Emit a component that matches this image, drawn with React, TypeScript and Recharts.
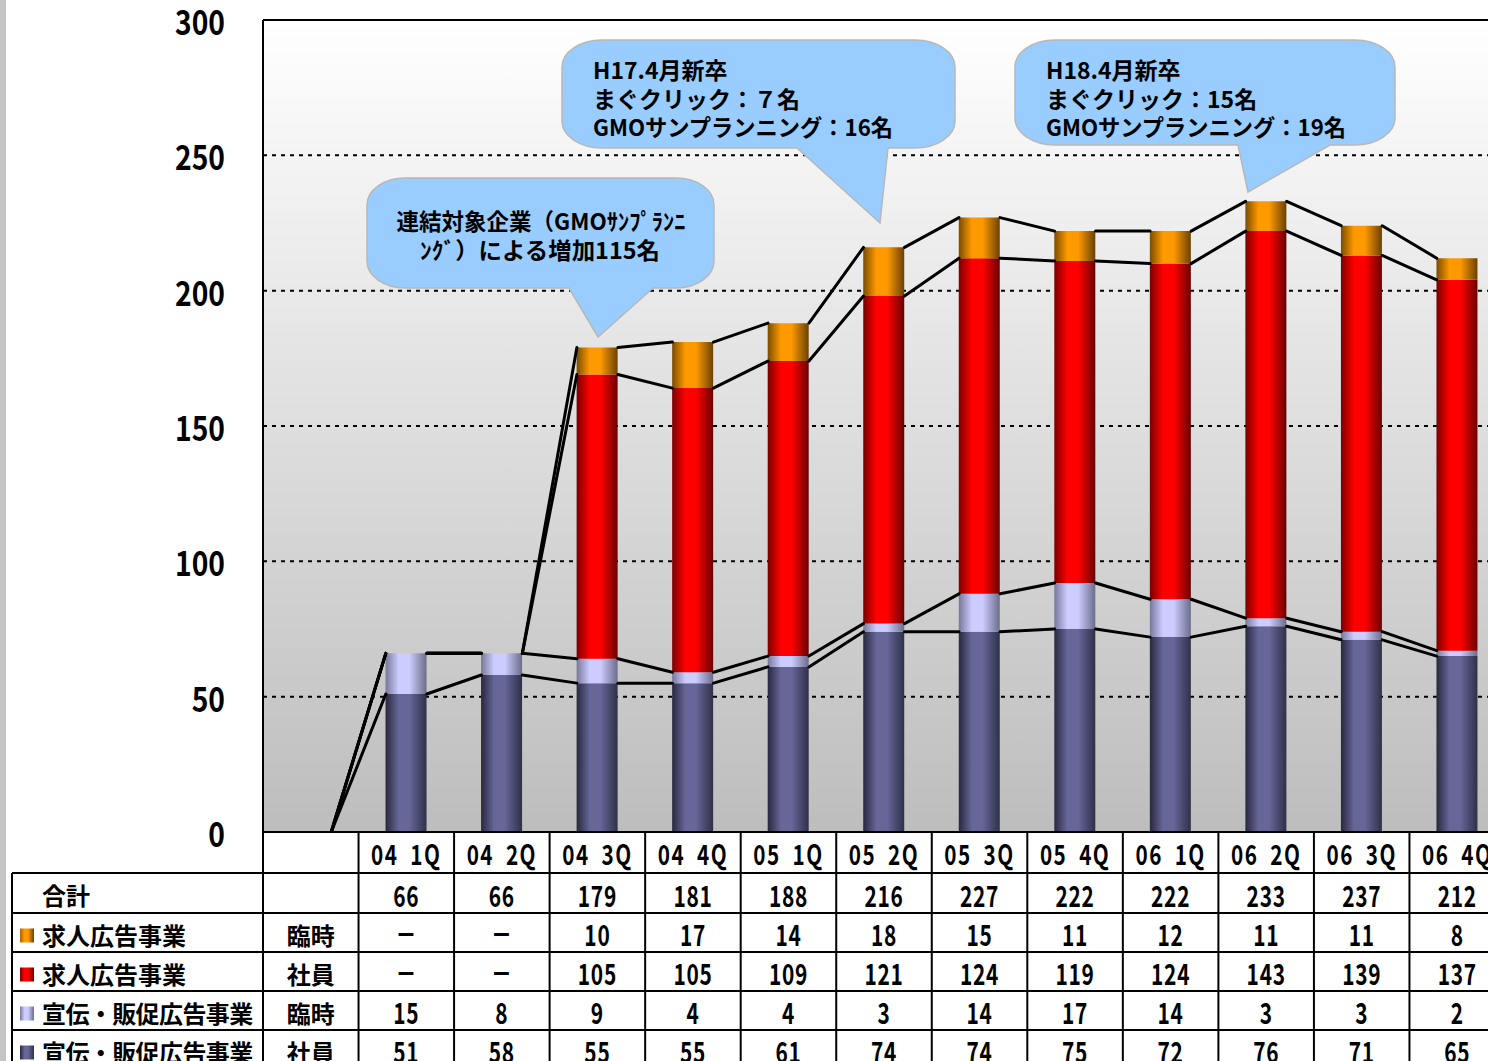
import React from 'react';
import { ComposedChart, Bar, Line, XAxis, YAxis, CartesianGrid, ReferenceLine } from 'recharts';

// ---------- data ----------
const categories = ['04 1Q', '04 2Q', '04 3Q', '04 4Q', '05 1Q', '05 2Q', '05 3Q', '05 4Q', '06 1Q', '06 2Q', '06 3Q', '06 4Q'];
const totals = [66, 66, 179, 181, 188, 216, 227, 222, 222, 233, 237, 212];
const recruitTemp: (number | null)[] = [null, null, 10, 17, 14, 18, 15, 11, 12, 11, 11, 8];
const recruitStaff: (number | null)[] = [null, null, 105, 105, 109, 121, 124, 119, 124, 143, 139, 137];
const promoTemp = [15, 8, 9, 4, 4, 3, 14, 17, 14, 3, 3, 2];
const promoStaff = [51, 58, 55, 55, 61, 74, 74, 75, 72, 76, 71, 65];
const yTicks = [0, 50, 100, 150, 200, 250, 300];

const rowLabels = ['合計', '求人広告事業', '求人広告事業', '宣伝・販促広告事業', '宣伝・販促広告事業'];
const rowSubs = ['', '臨時', '社員', '臨時', '社員'];
const rowValues: (number | null)[][] = [totals, recruitTemp, recruitStaff, promoTemp, promoStaff];
const rowSwatch = ['', 'LgOrange', 'LgRed', 'LgLav', 'LgNavy'];

const callout1 = ['連結対象企業（GMOｻﾝﾌﾟﾗﾝﾆ', 'ﾝｸﾞ）による増加115名'];
const callout2 = ['H17.4月新卒', 'まぐクリック：７名', 'GMOサンプランニング：16名'];
const callout3 = ['H18.4月新卒', 'まぐクリック：15名', 'GMOサンプランニング：19名'];

// chart rows built from arrays (leading blank category)
const base = [
  { cat: '', ps: 0, pt: 0, rs: 0, rt: 0 },
  ...categories.map((c, i) => ({
    cat: c,
    ps: promoStaff[i],
    pt: promoTemp[i],
    rs: recruitStaff[i] ?? 0,
    rt: recruitTemp[i] ?? 0,
  })),
];
const data = base.map((d) => ({
  ...d,
  c1: d.ps,
  c2: d.ps + d.pt,
  c3: d.ps + d.pt + d.rs,
  c4: d.ps + d.pt + d.rs + d.rt,
}));

// ---------- layout ----------
const FONT = "'Noto Sans CJK JP', 'Noto Sans', sans-serif";
const CHART_W = 1510;
const CHART_H = 870;
const MARGIN = { top: 20, right: 5, bottom: 38, left: 0 };
const Y_W = 263;
const PLOT_LEFT = MARGIN.left + Y_W;
const PLOT_RIGHT = CHART_W - MARGIN.right;
const BAND = (PLOT_RIGHT - PLOT_LEFT) / (categories.length + 1);
const BAR_SIZE = 41;
const HALF = BAR_SIZE / 2;

const TABLE_TOP = 832;
const ROW_TOPS = [873, 913, 952, 991, 1030, 1069];

const YTick = (props: any) => {
  const { x, y, payload } = props;
  return (
    <text
      transform={`translate(${x},${y + 15}) scale(0.83,1)`}
      textAnchor="end"
      fontSize={34}
      fontWeight={700}
      fontFamily={FONT}
      fill="#000"
    >
      {payload.value}
    </text>
  );
};

const makeConnector = (name: string) => (props: any) => {
  const { cx, cy, index, points } = props;
  const next = points && points[index + 1];
  if (!next || cx == null || next.x == null) return <g key={`${name}-${index}`} />;
  return (
    <line
      key={`${name}-${index}`}
      x1={cx + HALF}
      y1={cy}
      x2={next.x - HALF}
      y2={next.y}
      stroke="#000"
      strokeWidth={3}
      strokeLinecap="round"
    />
  );
};

const hGrad = (id: string, edgeL: string, mid: string, edgeR: string) => (
  <linearGradient id={id} x1="0" y1="0" x2="1" y2="0">
    <stop offset="0" stopColor={edgeL} />
    <stop offset="0.32" stopColor={mid} />
    <stop offset="0.58" stopColor={mid} />
    <stop offset="1" stopColor={edgeR} />
  </linearGradient>
);

const Num = ({ x, y, children, size = 29, sx = 0.72, ls = 0 }: any) => (
  <text
    transform={`translate(${x},${y}) scale(${sx},1)`}
    textAnchor="middle"
    fontSize={size}
    fontWeight={700}
    letterSpacing={ls}
    fontFamily={FONT}
    fill="#000"
  >
    {children}
  </text>
);

const bubblePath = (x0: number, y0: number, x1: number, y1: number, rx: number, ry: number, pl: number, pr: number, tx: number, ty: number) =>
  `M${x0 + rx},${y0} H${x1 - rx} A${rx},${ry} 0 0 1 ${x1},${y0 + ry} V${y1 - ry} A${rx},${ry} 0 0 1 ${x1 - rx},${y1} H${pr} L${tx},${ty} L${pl},${y1} H${x0 + rx} A${rx},${ry} 0 0 1 ${x0},${y1 - ry} V${y0 + ry} A${rx},${ry} 0 0 1 ${x0 + rx},${y0} Z`;

const calloutText = { fontSize: 23, fontWeight: 700, fontFamily: FONT, fill: '#000' } as const;
const calloutLens = [null, null, 300];

export default function App() {
  const colX = (k: number) => PLOT_LEFT + k * BAND;
  return (
    <div style={{ position: 'absolute', left: 0, top: 0, width: 1488, height: 1061, overflow: 'hidden', background: '#fff' }}>
      <div style={{ position: 'absolute', left: 0, top: 0 }}>
        <ComposedChart width={CHART_W} height={CHART_H} data={data} margin={MARGIN} barCategoryGap={0}>
          <defs>
            <linearGradient id="bgGrad" x1="0" y1="0" x2="0" y2="1">
              <stop offset="0" stopColor="#ffffff" />
              <stop offset="1" stopColor="#bdbdbd" />
            </linearGradient>
            {hGrad('gNavy', '#28283e', '#666699', '#30304a')}
            {hGrad('gLav', '#77779a', '#ccccff', '#6c6c8c')}
            {hGrad('gRed', '#7a0000', '#ff0000', '#6a0000')}
            {hGrad('gOrange', '#7a4c00', '#ff9900', '#6a4200')}
          </defs>
          <CartesianGrid
            vertical={false}
            fill="url(#bgGrad)"
            fillOpacity={1}
            stroke="#000"
            strokeWidth={2}
            strokeDasharray="4 5"
          />
          <XAxis dataKey="cat" hide />
          <YAxis
            width={Y_W}
            domain={[0, 300]}
            ticks={yTicks}
            interval={0}
            axisLine={{ stroke: '#000', strokeWidth: 2 }}
            tickLine={false}
            tickSize={0}
            tickMargin={38}
            tick={YTick}
          />
          <ReferenceLine y={300} stroke="#000" strokeWidth={2} />
          <Bar dataKey="ps" stackId="a" fill="url(#gNavy)" barSize={BAR_SIZE} isAnimationActive={false} />
          <Bar dataKey="pt" stackId="a" fill="url(#gLav)" barSize={BAR_SIZE} isAnimationActive={false} />
          <Bar dataKey="rs" stackId="a" fill="url(#gRed)" barSize={BAR_SIZE} isAnimationActive={false} />
          <Bar dataKey="rt" stackId="a" fill="url(#gOrange)" barSize={BAR_SIZE} isAnimationActive={false} />
          <ReferenceLine y={0} stroke="#000" strokeWidth={2} />
          <Line dataKey="c1" stroke="none" dot={makeConnector('c1')} activeDot={false} isAnimationActive={false} />
          <Line dataKey="c2" stroke="none" dot={makeConnector('c2')} activeDot={false} isAnimationActive={false} />
          <Line dataKey="c3" stroke="none" dot={makeConnector('c3')} activeDot={false} isAnimationActive={false} />
          <Line dataKey="c4" stroke="none" dot={makeConnector('c4')} activeDot={false} isAnimationActive={false} />
        </ComposedChart>
      </div>

      <svg style={{ position: 'absolute', left: 0, top: 0 }} width={1488} height={1061}>
        <defs>
          {hGrad('LgNavy', '#28283e', '#666699', '#30304a')}
          {hGrad('LgLav', '#77779a', '#ccccff', '#6c6c8c')}
          {hGrad('LgRed', '#7a0000', '#ff0000', '#6a0000')}
          {hGrad('LgOrange', '#a86400', '#ff9900', '#6a4200')}
        </defs>

        {/* callouts */}
        <path d={bubblePath(367, 178, 714, 288, 38, 27, 569, 653, 598, 337)} fill="#99ccff" stroke="#b8b8b8" strokeWidth={1.5} />
        <text x={541} y={230} textAnchor="middle" textLength={289} lengthAdjust="spacingAndGlyphs" {...calloutText}>{callout1[0]}</text>
        <text x={540} y={259} textAnchor="middle" textLength={240} lengthAdjust="spacingAndGlyphs" {...calloutText}>{callout1[1]}</text>

        <path d={bubblePath(562, 40, 955, 148, 40, 27, 797, 888, 880, 223)} fill="#99ccff" stroke="#b8b8b8" strokeWidth={1.5} />
        {callout2.map((t, i) => (
          <text key={i} x={593} y={79 + i * 28.5} {...calloutText}
            {...(calloutLens[i] ? { textLength: calloutLens[i], lengthAdjust: 'spacingAndGlyphs' } : {})}>{t}</text>
        ))}

        <path d={bubblePath(1015, 40, 1395, 145, 40, 27, 1238, 1330, 1248, 192)} fill="#99ccff" stroke="#b8b8b8" strokeWidth={1.5} />
        {callout3.map((t, i) => (
          <text key={i} x={1046} y={79 + i * 28.5} {...calloutText}
            {...(calloutLens[i] ? { textLength: calloutLens[i], lengthAdjust: 'spacingAndGlyphs' } : {})}>{t}</text>
        ))}

        {/* table grid */}
        <rect x={PLOT_LEFT} y={TABLE_TOP + 1} width={1300} height={240} fill="#fff" />
        <rect x={12} y={ROW_TOPS[0]} width={260} height={200} fill="#fff" />
        {Array.from({ length: categories.length + 2 }, (_, k) => (
          <line key={`v${k}`} x1={colX(k)} y1={TABLE_TOP} x2={colX(k)} y2={1061} stroke="#000" strokeWidth={2} />
        ))}
        <line x1={PLOT_LEFT} y1={TABLE_TOP} x2={1510} y2={TABLE_TOP} stroke="#000" strokeWidth={2} />
        <line x1={12} y1={ROW_TOPS[0]} x2={12} y2={1061} stroke="#000" strokeWidth={2} />
        {ROW_TOPS.map((y, i) => (
          <line key={`h${i}`} x1={12} y1={y} x2={1510} y2={y} stroke="#000" strokeWidth={2} />
        ))}

        {/* header labels */}
        {categories.map((c, i) => (
          <Num key={`hd${i}`} x={colX(i + 1) + BAND / 2} y={865} size={28} sx={0.74} ls={2}>
            {c.replace(' ', '\u2002')}
          </Num>
        ))}

        {/* rows */}
        {rowLabels.map((lab, r) => {
          const top = ROW_TOPS[r];
          const h = ROW_TOPS[r + 1] - top;
          const cy = top + h / 2 + 3;
          return (
            <g key={`r${r}`}>
              {rowSwatch[r] && <rect x={20} y={cy - 7} width={14} height={14} fill={`url(#${rowSwatch[r]})`} />}
              <text x={42} y={cy + 9} fontSize={24} fontWeight={700} fontFamily={FONT} letterSpacing={lab.length > 6 ? -0.6 : 0} fill="#000">
                {lab}
              </text>
              {rowSubs[r] && (
                <text x={colX(0) + BAND / 2} y={cy + 9} textAnchor="middle" fontSize={24} fontWeight={700} fontFamily={FONT} fill="#000">
                  {rowSubs[r]}
                </text>
              )}
              {rowValues[r].map((v, i) => (
                <Num key={`v${r}-${i}`} x={colX(i + 1) + BAND / 2} y={cy + 10.5} size={29} sx={0.72} ls={1}>
                  {v == null ? '－' : String(v)}
                </Num>
              ))}
            </g>
          );
        })}
      </svg>

      <div style={{ position: 'absolute', left: 0, top: 0, width: 6, height: 1061, background: '#c4c4c4' }} />
    </div>
  );
}
